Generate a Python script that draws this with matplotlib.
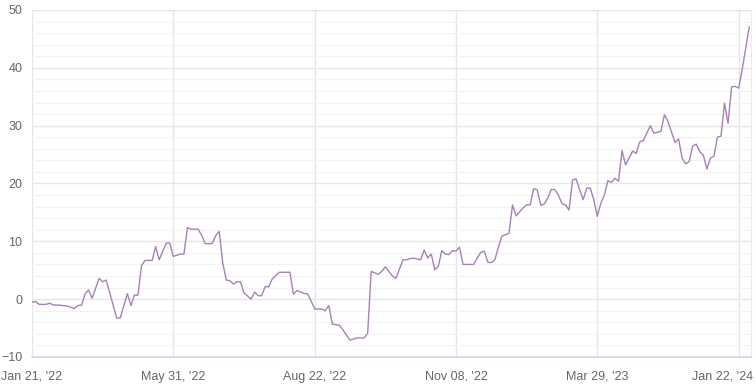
import matplotlib
matplotlib.use("Agg")
import matplotlib.pyplot as plt
from matplotlib.ticker import MultipleLocator
from matplotlib.transforms import ScaledTranslation

plt.rcParams["font.family"] = ["Liberation Sans", "DejaVu Sans"]

# sample position in the series -> value
idx = [0, 1, 2, 4, 5, 6, 8, 10, 12, 13, 14, 15, 16, 17, 19, 20, 21, 24, 25,
       27, 28, 29, 30, 31, 32, 34,
       35, 36, 38, 39, 40, 42, 43, 44, 45, 47, 48, 49, 51, 52, 53, 54, 55, 56,
       57, 58, 59, 60, 62, 63, 64, 65, 66, 67, 68,
       70, 73, 74, 75, 77, 78, 79, 80, 82, 83, 84, 85, 87, 88, 90, 92, 94, 95,
       96, 98, 99, 100, 102, 103,
       105, 106, 107, 108, 110, 111, 112, 113, 114, 115, 116, 117, 118, 119,
       120, 121, 122, 125, 126, 127, 128, 129, 130, 131, 132, 133, 135, 136,
       137, 139, 140, 141, 142, 143, 144, 145, 146, 147, 148, 149, 150, 151,
       152, 153, 154, 155, 156, 157, 158, 159, 160, 161, 162, 163, 164, 165,
       166, 167, 168,
       170, 171, 172, 173, 175, 176, 178, 179, 180, 182, 183, 184, 185, 186,
       187, 188, 189, 190, 191, 192, 193, 194, 195, 196, 197, 198, 199, 200,
       201, 203]
vals = [-0.5, -0.4, -0.9, -0.9, -0.7, -1.0, -1.05, -1.2, -1.6, -1.1, -1.05,
        0.85, 1.6, 0.15, 3.6, 3.0, 3.3, -3.3, -3.2, 0.95, -1.1, 0.7, 0.7, 5.8,
        6.7, 6.7,
        9.1, 6.8, 9.7, 9.7, 7.4, 7.8, 7.8, 12.4, 12.1, 12.1, 11.1, 9.6, 9.6,
        11.0, 11.7, 6.2, 3.3, 3.2, 2.6, 3.0, 3.0, 1.1, 0.0, 1.2, 0.6, 0.6, 2.2,
        2.1, 3.5,
        4.65, 4.65, 0.85, 1.5, 1.0, 0.9, -0.3, -1.7, -1.7, -2.0, -1.1, -4.3,
        -4.5, -5.3, -7.1, -6.7, -6.7, -5.9, 4.8, 4.3, 4.8, 5.6, 4.0, 3.6,
        6.8, 6.8, 7.0, 7.1, 6.8, 8.5, 7.1, 7.8, 5.05, 5.7, 8.4, 7.8, 7.7, 8.4,
        8.3, 9.0, 6.0, 6.0, 7.1, 8.1, 8.3, 6.4, 6.3, 6.8, 9.0, 10.9, 11.4, 16.3,
        14.4, 15.8, 16.3, 16.3, 19.1, 18.9, 16.2, 16.5, 17.5, 19.0, 18.9, 18.0,
        16.5, 16.3, 15.4, 20.6, 20.8, 18.9, 17.2, 19.2, 19.2, 17.2, 14.3, 16.6,
        18.0, 20.5, 20.2, 20.9, 20.4, 25.7, 23.2,
        25.6, 25.2, 27.2, 27.4, 30.0, 28.7, 29.0, 31.9, 30.7, 27.1, 27.7, 24.4,
        23.4, 23.8, 26.5, 26.8, 25.5, 24.9, 22.5, 24.4, 24.7, 28.0, 28.2, 33.9,
        30.4, 36.7, 36.8, 36.5, 39.7, 47.1]

tick_pos = [0, 40, 80, 120, 160, 200]
tick_labels = ["Jan 21, '22", "May 31, '22", "Aug 22, '22", "Nov 08, '22",
               "Mar 29, '23", "Jan 22, '24"]

fig = plt.figure(figsize=(7.56, 3.89), dpi=100)
ax = fig.add_axes([0.0423, 0.0823, 0.9511, 0.892])

ax.plot(idx, vals, color="#a682b4", linewidth=1.0, zorder=3)

ax.set_xlim(0, 203.5)
ax.set_ylim(-10, 50)
ax.set_xticks(tick_pos)
ax.set_xticklabels(tick_labels)
ax.yaxis.set_major_locator(MultipleLocator(10))
ax.yaxis.set_minor_locator(MultipleLocator(2))

ax.grid(True, which="major", axis="both", color="#e6e6e6", linewidth=1.0, zorder=0)
ax.grid(True, which="minor", axis="y", color="#f2f2f2", linewidth=0.8, zorder=0)
ax.set_axisbelow(True)

for s in ["top", "left"]:
    ax.spines[s].set_visible(False)
ax.spines["right"].set_color("#ececec")
ax.spines["bottom"].set_color("#ccd6eb")
ax.spines["bottom"].set_linewidth(1.2)

ax.tick_params(axis="both", which="both", length=0, labelsize=9,
               labelcolor="#666666")
ax.tick_params(axis="y", pad=7)
ax.tick_params(axis="x", pad=10)

# last x label is pushed inside the figure, like the original
last = ax.get_xticklabels()[-1]
last.set_horizontalalignment("right")
last.set_transform(last.get_transform() + ScaledTranslation(0.14, 0, fig.dpi_scale_trans))

fig.savefig("out.png", dpi=100)
